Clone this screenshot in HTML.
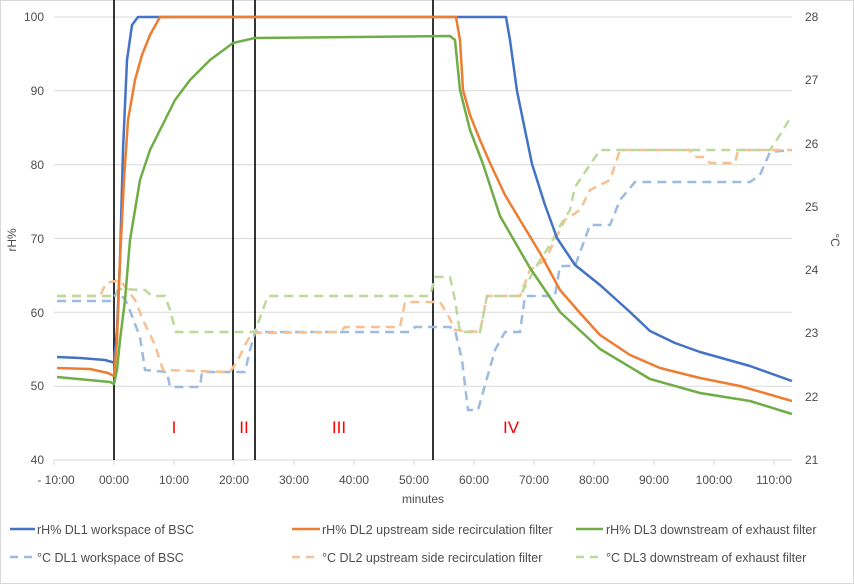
<!DOCTYPE html>
<html><head><meta charset="utf-8"><style>
body{margin:0;background:#fff;}
svg{display:block;font-family:"Liberation Sans",sans-serif;}
</style></head><body>
<svg width="854" height="584" viewBox="0 0 854 584" xmlns="http://www.w3.org/2000/svg">
<rect x="0.5" y="0.5" width="853" height="583" fill="#fff" stroke="#d9d9d9"/>
<g stroke="#d9d9d9" stroke-width="1">
<line x1="54" y1="17" x2="792" y2="17"/><line x1="54" y1="90.8" x2="792" y2="90.8"/>
<line x1="54" y1="164.7" x2="792" y2="164.7"/><line x1="54" y1="238.5" x2="792" y2="238.5"/>
<line x1="54" y1="312.3" x2="792" y2="312.3"/><line x1="54" y1="386.2" x2="792" y2="386.2"/>
<line x1="54" y1="460" x2="792" y2="460"/>
</g>
<g stroke="#d9d9d9"><line x1="54" y1="460" x2="54" y2="465"/><line x1="114" y1="460" x2="114" y2="465"/><line x1="174" y1="460" x2="174" y2="465"/><line x1="234" y1="460" x2="234" y2="465"/><line x1="294" y1="460" x2="294" y2="465"/><line x1="354" y1="460" x2="354" y2="465"/><line x1="414" y1="460" x2="414" y2="465"/><line x1="474" y1="460" x2="474" y2="465"/><line x1="534" y1="460" x2="534" y2="465"/><line x1="594" y1="460" x2="594" y2="465"/><line x1="654" y1="460" x2="654" y2="465"/><line x1="714" y1="460" x2="714" y2="465"/><line x1="774" y1="460" x2="774" y2="465"/></g>
<g font-size="12" fill="#4d4d4d" text-anchor="end">
<text x="44" y="21">100</text><text x="44" y="95">90</text><text x="44" y="169">80</text><text x="44" y="243">70</text><text x="44" y="317">60</text><text x="44" y="390">50</text><text x="44" y="464">40</text>
</g>
<g font-size="12" fill="#4d4d4d">
<text x="805" y="21">28</text><text x="805" y="84">27</text><text x="805" y="148">26</text><text x="805" y="211">25</text><text x="805" y="274">24</text><text x="805" y="337">23</text><text x="805" y="401">22</text><text x="805" y="464">21</text>
</g>
<g font-size="12" fill="#4d4d4d" text-anchor="middle">
<text x="56" y="484">- 10:00</text><text x="114" y="484">00:00</text><text x="174" y="484">10:00</text><text x="234" y="484">20:00</text><text x="294" y="484">30:00</text><text x="354" y="484">40:00</text><text x="414" y="484">50:00</text><text x="474" y="484">60:00</text><text x="534" y="484">70:00</text><text x="594" y="484">80:00</text><text x="654" y="484">90:00</text><text x="714" y="484">100:00</text><text x="774" y="484">110:00</text>
<text x="423" y="503">minutes</text>
<text transform="translate(16,240) rotate(-90)">rH%</text>
<text transform="translate(831,240) rotate(90)">°C</text>
</g>
<g stroke="#000" stroke-width="1.6">
<line x1="114" y1="0" x2="114" y2="460"/><line x1="233" y1="0" x2="233" y2="460"/><line x1="255" y1="0" x2="255" y2="460"/><line x1="433" y1="0" x2="433" y2="460"/>
</g>
<g font-size="17" fill="#ff0000" text-anchor="middle">
<text x="174" y="433">I</text><text x="244" y="433">II</text><text x="339" y="433">III</text><text x="511" y="433">IV</text>
</g>
<g fill="none" stroke-width="2.5" stroke-dasharray="9,6">
<polyline stroke="#9dbbe0" points="57,301 112,301 118,290 127,303 140,337 145,370 167,372 170,387 200,387 202,372 245,372 250,350 255,332 410,332 415,327 450,327 455,330 462,360 468,410 478,410 485,385 495,350 505,332 520,332 525,296 555,296 560,266 575,266 590,225 610,225 620,200 635,182 750,182 760,175 770,152 792,150"/>
<polyline stroke="#f8c090" points="57,296 100,296 106,283 120,280 135,300 143,320 155,345 163,370 230,372 238,360 245,345 252,333 340,332 345,327 400,327 405,302 440,302 448,315 455,330 480,332 487,296 520,296 530,270 545,260 555,240 565,220 580,210 590,190 610,180 620,150 690,150 695,157 705,157 710,163 735,163 738,150 792,150"/>
<polyline stroke="#bdd89a" points="57,296 115,296 120,289 145,290 152,296 165,296 170,310 176,332 255,332 262,312 268,296 430,296 435,277 450,277 455,300 460,332 480,332 487,296 520,296 530,278 540,260 550,245 560,226 570,210 575,187 600,150 770,150 780,135 792,115"/>
</g>
<g fill="none" stroke-width="2.5" stroke-linejoin="round">
<polyline stroke="#4472c4" points="57,357 80,358 105,360 112,362 114,363 117,330 120,260 123,150 127,60 132,25 138,17 506,17 510,40 517,91 525,130 532,164 545,205 557,238 575,265 600,285 630,312 650,331 675,343 700,352 750,366 792,381"/>
<polyline stroke="#ed7d31" points="57,368 90,369 108,373 114,376 117,340 120,260 124,180 128,120 135,80 142,55 150,35 160,17 456,17 460,40 463,90 470,115 480,140 490,163 505,195 520,220 540,253 560,290 580,313 600,335 630,355 660,368 700,378 740,386 792,401"/>
<polyline stroke="#70ad47" points="57,377 110,382 114,384 117,370 120,340 125,300 130,240 140,180 150,150 165,120 175,100 190,80 210,60 233,43 255,38 450,36 455,40 460,90 470,130 483,164 500,216 530,268 560,312 600,349 650,379 700,393 750,401 792,414"/>
</g>
<g font-size="12.5" fill="#4d4d4d">
<line x1="10" y1="529" x2="35" y2="529" stroke="#4472c4" stroke-width="2.5"/><text x="37" y="534">rH% DL1 workspace of BSC</text>
<line x1="292" y1="529" x2="320" y2="529" stroke="#ed7d31" stroke-width="2.5"/><text x="322" y="534">rH% DL2 upstream side recirculation filter</text>
<line x1="576" y1="529" x2="603" y2="529" stroke="#70ad47" stroke-width="2.5"/><text x="606" y="534">rH% DL3 downstream of exhaust filter</text>
<line x1="10" y1="557" x2="35" y2="557" stroke="#9dbbe0" stroke-width="2.5" stroke-dasharray="8,6"/><text x="37" y="562">°C DL1 workspace of BSC</text>
<line x1="292" y1="557" x2="320" y2="557" stroke="#f8c090" stroke-width="2.5" stroke-dasharray="8,6"/><text x="322" y="562">°C DL2 upstream side recirculation filter</text>
<line x1="576" y1="557" x2="603" y2="557" stroke="#bdd89a" stroke-width="2.5" stroke-dasharray="8,6"/><text x="606" y="562">°C DL3 downstream of exhaust filter</text>
</g>
</svg>
</body></html>
